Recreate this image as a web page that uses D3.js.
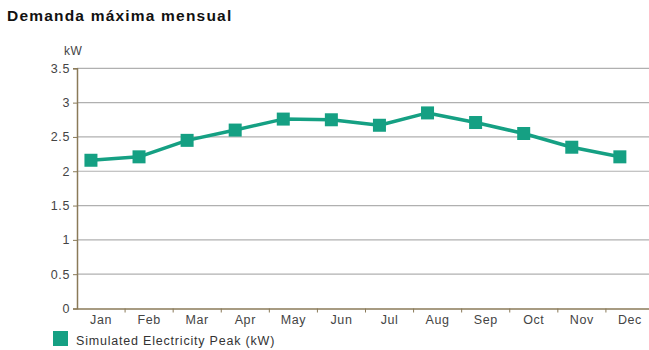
<!DOCTYPE html>
<html><head><meta charset="utf-8">
<script src="https://cdn.jsdelivr.net/npm/d3@7"></script>
<style>
body{margin:0;background:#fff;}
svg{display:block;font-family:Arial,"Liberation Sans",sans-serif;}
</style></head>
<body><svg id="c" width="649" height="350"></svg>
<script>
const months = ["Jan","Feb","Mar","Apr","May","Jun","Jul","Aug","Sep","Oct","Nov","Dec"];
const peakKW = [2.16,2.21,2.45,2.60,2.76,2.75,2.67,2.85,2.71,2.55,2.35,2.21];
const yTicks = [0,0.5,1,1.5,2,2.5,3,3.5];
const yTickLabels = ["0","0.5","1","1.5","2","2.5","3","3.5"];
const seriesName = "Simulated Electricity Peak (kW)";
const chartTitle = "Demanda máxima mensual";
const unit = "kW";

(function(){
const svg = d3.select("#c");
const color = "#15a083";
const axisColor = "#8a7a58";
const txt = "#444";
const pLeft = 77, pRight = 654, pTop = 68.3, pBottom = 308.5;

const x = d3.scaleBand().domain(months).range([pLeft, pRight]).padding(0);
const y = d3.scaleLinear().domain([0, 3.5]).range([pBottom, pTop]);

svg.append("text").attr("x", 7).attr("y", 21).attr("font-size", 15.5).attr("font-weight", "bold")
  .attr("letter-spacing", 1.2).attr("fill", "#111").text(chartTitle);
svg.append("text").attr("x", 64).attr("y", 55).attr("font-size", 12).attr("letter-spacing", 0.6)
  .attr("fill", txt).text(unit);

svg.append("g").selectAll("line").data(yTicks.filter(d => d > 0)).join("line")
  .attr("x1", pLeft).attr("x2", 649).attr("y1", d => y(d)).attr("y2", d => y(d))
  .attr("stroke", "#b0b0b0").attr("stroke-width", 1.2);

const yAxis = d3.axisLeft(y).tickValues(yTicks).tickFormat((d, i) => yTickLabels[i]).tickSizeOuter(0).tickSize(4).tickPadding(3);
const gy = svg.append("g").attr("transform", `translate(${pLeft},0)`).call(yAxis);
gy.select(".domain").attr("stroke", axisColor).attr("stroke-width", 1.5);
gy.selectAll(".tick line").attr("stroke", axisColor);
gy.selectAll("text").attr("font-size", 12.5).attr("letter-spacing", 0.6).attr("fill", txt)
  .attr("font-family", "Arial, Liberation Sans, sans-serif");

const xAxis = d3.axisBottom(x).tickSize(0).tickPadding(7);
const gx = svg.append("g").attr("transform", `translate(0,${pBottom})`).call(xAxis);
gx.select(".domain").attr("stroke", axisColor).attr("stroke-width", 1.5);
gx.selectAll("text").attr("font-size", 12.5).attr("letter-spacing", 0.6).attr("fill", txt)
  .attr("font-family", "Arial, Liberation Sans, sans-serif");
gx.append("g").selectAll("line").data(months.slice(1)).join("line")
  .attr("x1", d => x(d)).attr("x2", d => x(d)).attr("y1", 0).attr("y2", 4)
  .attr("stroke", axisColor).attr("stroke-width", 1);

const mx = d => x(d) + x.bandwidth() * 0.29;
const line = d3.line().x((d, i) => mx(months[i])).y(d => y(d));
svg.append("path").datum(peakKW).attr("d", line).attr("fill", "none")
  .attr("stroke", color).attr("stroke-width", 3.5).attr("stroke-linejoin", "round");
const s = 13;
svg.append("g").selectAll("rect").data(peakKW).join("rect")
  .attr("x", (d, i) => mx(months[i]) - s / 2).attr("y", d => y(d) - s / 2)
  .attr("width", s).attr("height", s).attr("fill", color);

svg.append("rect").attr("x", 53).attr("y", 331).attr("width", 15).attr("height", 15).attr("fill", color);
svg.append("text").attr("x", 76).attr("y", 345).attr("font-size", 12.5).attr("letter-spacing", 0.8)
  .attr("fill", "#333").text(seriesName);
})();
</script></body></html>
